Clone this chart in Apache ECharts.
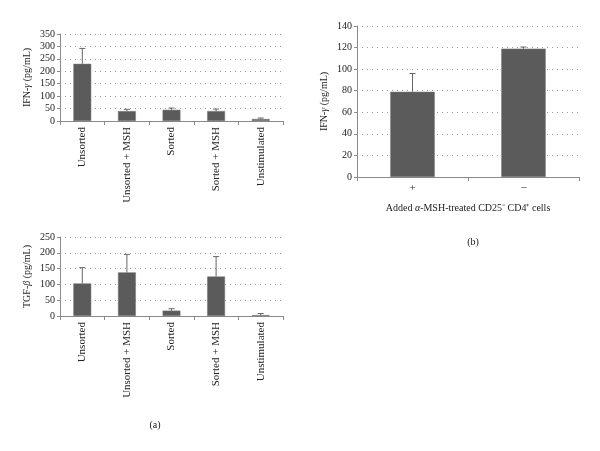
<!DOCTYPE html>
<html><head><meta charset="utf-8">
<script src="https://cdn.jsdelivr.net/npm/echarts@6/dist/echarts.min.js"></script>
<style>html,body{margin:0;padding:0;background:#fff}#c{width:600px;height:451px}</style>
</head><body><div id="c"></div>
<script>
const catsA = ['Unsorted', 'Unsorted + MSH', 'Sorted', 'Sorted + MSH', 'Unstimulated'];
const ifnA = [230, 40, 45, 40, 8];
const ifnAErr = [292, 47, 52, 48, 12];
const tgfA = [103, 138, 17, 125, 3];
const tgfAErr = [153, 195, 23, 188, 8];
const catsB = ['+', '−'];
const ifnB = [79, 119];
const ifnBErr = [96, 120.5];

const FONT = 'Liberation Serif';
const BAR = '#5b5b5b';
const AX = '#8a8a8a';
const TXT = '#222';

function errData(vals, errs) { return vals.map((v, i) => [i, v, errs[i]]); }
function errSeries(xi, yi, vals, errs) {
  return {
    type: 'custom', xAxisIndex: xi, yAxisIndex: yi, z: 5,
    data: errData(vals, errs),
    renderItem: function (params, api) {
      const top = api.coord([api.value(0), api.value(1)]);
      const hi = api.coord([api.value(0), api.value(2)]);
      const cw = 3;
      return { type: 'group', children: [
        { type: 'line', shape: { x1: top[0], y1: top[1], x2: hi[0], y2: hi[1] }, style: { stroke: '#666', lineWidth: 1 } },
        { type: 'line', shape: { x1: hi[0] - cw, y1: hi[1], x2: hi[0] + cw, y2: hi[1] }, style: { stroke: '#666', lineWidth: 1 } }
      ]};
    }
  };
}
function yAx(gi, max, interval, nameRich, gap) {
  return {
    type: 'value', gridIndex: gi, min: 0, max: max, interval: interval,
    name: nameRich, nameLocation: 'middle', nameRotate: 90, nameGap: gap,
    nameTextStyle: { fontFamily: FONT, fontSize: 10, color: TXT, rich: { i: { fontStyle: 'italic', fontFamily: FONT, fontSize: 10, color: TXT } } },
    axisLine: { show: true, lineStyle: { color: AX } },
    axisTick: { show: true, length: 3, lineStyle: { color: AX } },
    axisLabel: { fontFamily: FONT, fontSize: 10, color: TXT, margin: 5 },
    splitLine: { show: true, lineStyle: { type: [1, 4], color: '#999' } }
  };
}
function xAx(gi, cats, rotate) {
  return {
    type: 'category', gridIndex: gi, data: cats,
    axisLine: { lineStyle: { color: AX } },
    axisTick: { show: true, length: 4, lineStyle: { color: AX } },
    axisLabel: { rotate: rotate, fontFamily: FONT, fontSize: 11, color: TXT, margin: 6 }
  };
}
const chart = echarts.init(document.getElementById('c'));
chart.setOption({
  animation: false,
  title: [
    { text: '(a)', left: 150, top: 415, textAlign: 'center', textStyle: { fontFamily: FONT, fontSize: 10, fontWeight: 'normal', color: TXT } },
    { text: '(b)', left: 468, top: 232, textAlign: 'center', textStyle: { fontFamily: FONT, fontSize: 10, fontWeight: 'normal', color: TXT } }
  ],
  grid: [
    { left: 60, right: 317, top: 34, height: 87 },
    { left: 60, right: 317, top: 237, height: 79 },
    { left: 357, right: 21, top: 26, height: 151 }
  ],
  xAxis: [
    xAx(0, catsA, 90),
    xAx(1, catsA, 90),
    Object.assign(xAx(2, catsB, 0), {
      name: 'Added {i|α}-MSH-treated CD25⁻ CD4⁺ cells', nameLocation: 'middle', nameGap: 26,
      nameTextStyle: { fontFamily: FONT, fontSize: 10, color: TXT, rich: { i: { fontStyle: 'italic', fontFamily: FONT, fontSize: 10, color: TXT } } }
    })
  ],
  yAxis: [
    yAx(0, 350, 50, 'IFN-{i|γ} (pg/mL)', 28),
    yAx(1, 250, 50, 'TGF-{i|β} (pg/mL)', 28),
    yAx(2, 140, 20, 'IFN-{i|γ} (pg/mL)', 28)
  ],
  series: [
    { type: 'bar', xAxisIndex: 0, yAxisIndex: 0, data: ifnA, barWidth: '40%', itemStyle: { color: BAR, borderColor: '#777', borderWidth: 0.5 } },
    errSeries(0, 0, ifnA, ifnAErr),
    { type: 'bar', xAxisIndex: 1, yAxisIndex: 1, data: tgfA, barWidth: '40%', itemStyle: { color: BAR, borderColor: '#777', borderWidth: 0.5 } },
    errSeries(1, 1, tgfA, tgfAErr),
    { type: 'bar', xAxisIndex: 2, yAxisIndex: 2, data: ifnB, barWidth: '40%', itemStyle: { color: BAR, borderColor: '#777', borderWidth: 0.5 } },
    errSeries(2, 2, ifnB, ifnBErr)
  ]
});
</script></body></html>
